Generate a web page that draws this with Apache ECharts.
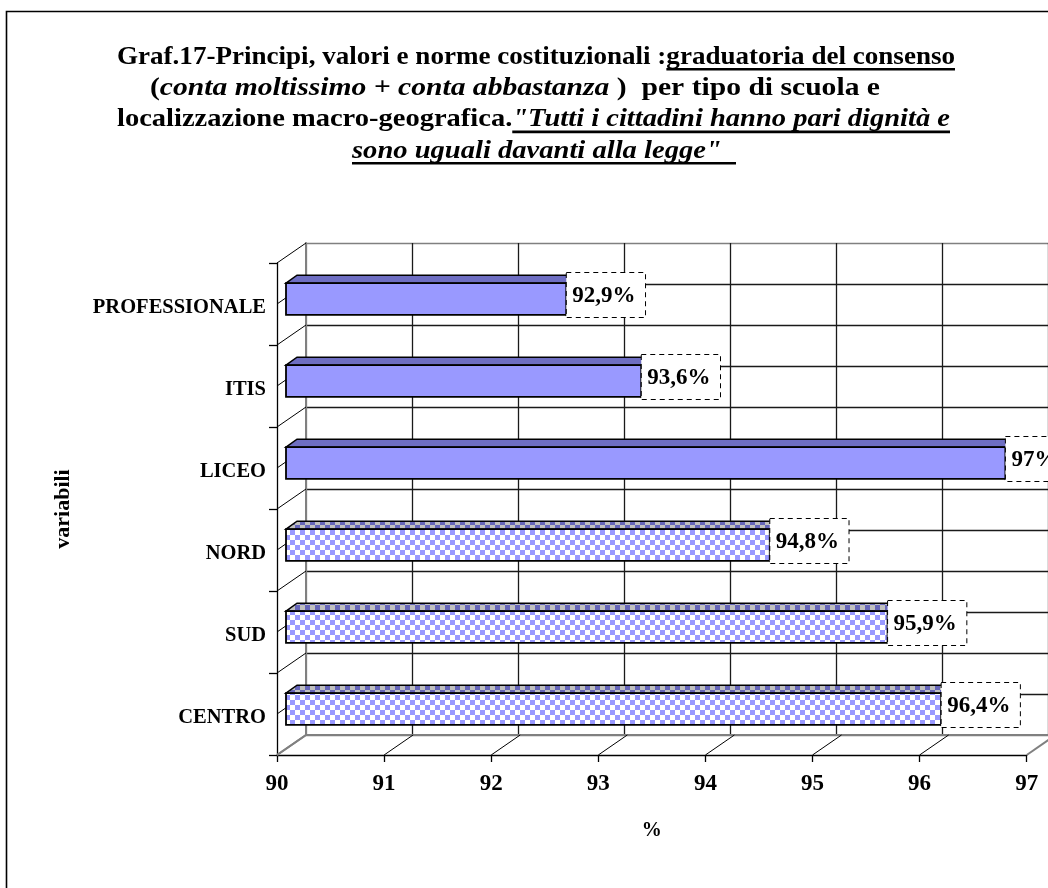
<!DOCTYPE html>
<html>
<head>
<meta charset="utf-8">
<script src="https://cdn.jsdelivr.net/npm/echarts@6/dist/echarts.min.js"></script>
<style>
html,body{margin:0;padding:0;background:#fff;}
#c{width:1048px;height:888px;}
</style>
</head>
<body>
<div id="c"></div>
<script>
// ---- data ----
const categories = ['PROFESSIONALE', 'ITIS', 'LICEO', 'NORD', 'SUD', 'CENTRO'];
const values = [92.9, 93.6, 97, 94.8, 95.9, 96.4];
const kinds = ['scuola', 'scuola', 'scuola', 'area', 'area', 'area'];
const xMin = 90, xMax = 97, xStep = 1;
const titleLines = [
  [{t: 'Graf.17-Principi, valori e norme costituzionali :'}, {t: 'graduatoria del consenso', u: true}],
  [{t: '('}, {t: 'conta moltissimo + conta abbastanza', i: true}, {t: ' )  per tipo di scuola e'}],
  [{t: 'localizzazione macro-geografica.'}, {t: '"Tutti i cittadini hanno pari dignità e', i: true, u: true}],
  [{t: 'sono uguali davanti alla legge"  ', i: true, u: true}]
];
const xAxisName = '%';
const yAxisName = 'variabili';

// ---- layout ----
const FONT = '"Liberation Serif", "Times New Roman", serif';
const UNIT = 107.1;
const W = (xMax - xMin) * UNIT;
const H = 492;
const FRONT = {left: 277, top: 263};
const BACK = {left: 306, top: 243};
const BARS = {left: 286, top: 258};
const barShift = 0.283; // perspective offset of the bar plane
const DX = 11, DY = 8;
const titleExt = [[117, 955], [150, 880], [117, 950], [352, 736]];
const titleY0 = 57, titleDy = 31.3, tSize = 26;

const mctx = document.createElement('canvas').getContext('2d');
function tw(text, font) { mctx.font = font; return mctx.measureText(text).width; }

function checker(c1, c2, s) {
  const cv = document.createElement('canvas');
  cv.width = cv.height = 2 * s;
  const g = cv.getContext('2d');
  g.fillStyle = c2; g.fillRect(0, 0, 2 * s, 2 * s);
  g.fillStyle = c1; g.fillRect(0, 0, s, s); g.fillRect(s, s, s, s);
  return {image: cv, repeat: 'repeat'};
}
const fills = {
  scuola: {front: '#9999ff', top: '#6e6ec2', side: '#4d4d99'},
  area: {front: checker('#9999ff', '#ffffff', 5), top: checker('#6666b8', '#c0c0c0', 5), side: '#4d4d99'}
};

const LABEL_FONT = 'bold 23px ' + FONT;

// ---- graphics ----
const graphics = [];
graphics.push({type: 'rect', shape: {x: 6.5, y: 11.5, width: 1100, height: 1000},
  style: {fill: null, stroke: '#000', lineWidth: 1.6}, z: 0, silent: true});

function segFont(s) { return (s.i ? 'italic ' : '') + 'bold ' + tSize + 'px ' + FONT; }
titleLines.forEach((line, li) => {
  const widths = line.map(s => tw(s.t, segFont(s)));
  const total = widths.reduce((a, b) => a + b, 0);
  const sx = (titleExt[li][1] - titleExt[li][0]) / total;
  const y = titleY0 + li * titleDy;
  const children = [];
  let x = 0;
  line.forEach((s, si) => {
    children.push({type: 'text', x: x, y: 0,
      style: {text: s.t, font: segFont(s), fill: '#000', align: 'left', verticalAlign: 'middle'}});
    if (s.u) {
      children.push({type: 'rect', shape: {x: x, y: 11, width: widths[si], height: 2.6}, style: {fill: '#000'}});
    }
    x += widths[si];
  });
  graphics.push({type: 'group', x: titleExt[li][0], y: y, scaleX: sx, z: 10, children: children});
});

// left-wall and floor perspective lines
const nCat = categories.length;
for (let k = 0; k <= nCat * 2; k++) {
  const yf = FRONT.top + k * H / (nCat * 2);
  const yb = BACK.top + k * H / (nCat * 2);
  graphics.push({type: 'line', z: 1, shape: {x1: FRONT.left, y1: yf, x2: BACK.left, y2: yb},
    style: {stroke: k === nCat * 2 ? '#808080' : '#000', lineWidth: k === nCat * 2 ? 2 : 1}});
}
for (let v = xMin; v <= xMax; v += xStep) {
  const xf = FRONT.left + (v - xMin) * UNIT;
  const xb = BACK.left + (v - xMin) * UNIT;
  const edge = (v === xMin || v === xMax);
  graphics.push({type: 'line', z: 1, shape: {x1: xf, y1: FRONT.top + H, x2: xb, y2: BACK.top + H},
    style: {stroke: edge ? '#808080' : '#000', lineWidth: edge ? 2 : 1}});
}

const vCols = []; for (let v = xMin; v <= xMax; v += xStep) vCols.push(v === xMin ? '#808080' : '#1a1a1a');
const hCols = []; for (let k = 0; k <= nCat * 2; k++) hCols.push((k === 0 || k === nCat * 2) ? '#808080' : '#1a1a1a');

function fmt(v) { return String(v).replace('.', ',') + '%'; }

const chart = echarts.init(document.getElementById('c'), null, {renderer: 'canvas'});
chart.setOption({
  backgroundColor: '#fff',
  animation: false,
  grid: [
    {left: BACK.left, top: BACK.top, width: W, height: H},
    {left: FRONT.left, top: FRONT.top, width: W, height: H},
    {left: BARS.left, top: BARS.top, width: W, height: H}
  ],
  xAxis: [
    {gridIndex: 0, type: 'value', min: xMin, max: xMax, interval: xStep,
      axisLine: {show: true, onZero: false, lineStyle: {color: '#808080', width: 2}},
      axisTick: {show: false}, axisLabel: {show: false},
      splitLine: {show: true, lineStyle: {color: vCols, width: 1.3}}},
    {gridIndex: 1, type: 'value', min: xMin, max: xMax, interval: xStep,
      axisLine: {show: true, onZero: false, lineStyle: {color: '#000', width: 1.3}},
      axisTick: {show: true, length: 7, lineStyle: {color: '#000', width: 1.3}},
      axisLabel: {show: true, margin: 18, color: '#000', fontFamily: FONT, fontWeight: 'bold', fontSize: 23},
      splitLine: {show: false},
      name: xAxisName, nameLocation: 'middle', nameGap: 66, nameMoveOverlap: false,
      nameTextStyle: {color: '#000', fontFamily: FONT, fontWeight: 'bold', fontSize: 20}},
    {gridIndex: 2, type: 'value', min: xMin + barShift, max: xMax + barShift, show: false}
  ],
  yAxis: [
    {gridIndex: 0, type: 'value', min: 0, max: nCat * 2, interval: 1,
      axisLine: {show: true, onZero: false, lineStyle: {color: '#808080', width: 2}},
      axisTick: {show: false}, axisLabel: {show: false},
      splitLine: {show: true, lineStyle: {color: hCols, width: 1.3}}},
    {gridIndex: 1, type: 'category', data: categories, inverse: true,
      axisLine: {show: true, onZero: false, lineStyle: {color: '#000', width: 1.3}},
      axisTick: {show: true, length: 8, lineStyle: {color: '#000', width: 1.3}},
      axisLabel: {show: true, margin: 11, formatter: function (v) { return '{a|' + v + '}'; },
        rich: {a: {padding: [7, 0, 0, 0], color: '#000', fontFamily: FONT, fontWeight: 'bold', fontSize: 20.5}}},
      splitLine: {show: false},
      name: yAxisName, nameLocation: 'middle', nameGap: 203, nameRotate: 90, nameMoveOverlap: false,
      nameTextStyle: {color: '#000', fontFamily: FONT, fontWeight: 'bold', fontSize: 22}},
    {gridIndex: 2, type: 'category', data: categories, inverse: true, show: false}
  ],
  graphic: graphics,
  series: [{
    type: 'custom',
    xAxisIndex: 2, yAxisIndex: 2,
    clip: false,
    z: 5,
    data: values.map((v, i) => [v, i]),
    encode: {x: 0, y: 1},
    renderItem: function (params, api) {
      const v = api.value(0), idx = api.value(1);
      const end = api.coord([v, idx]);
      const start = api.coord([xMin + barShift, idx]);
      const band = api.size([0, 1])[1];
      const h = band * 0.385;
      const x0 = start[0], x1 = end[0], y0 = end[1] - h / 2;
      const f = fills[kinds[idx]];
      const label = fmt(v);
      const lw = tw(label, LABEL_FONT);
      const boxW = lw + 16, boxH = 45;
      const cy = y0 + h / 2 - 4;
      return {type: 'group', children: [
        {type: 'polygon', shape: {points: [[x0, y0], [x0 + DX, y0 - DY], [x1 + DX, y0 - DY], [x1, y0]]},
          style: {fill: f.top, stroke: '#000', lineWidth: 1.5}},
        {type: 'polygon', shape: {points: [[x1, y0], [x1 + DX, y0 - DY], [x1 + DX, y0 + h - DY], [x1, y0 + h]]},
          style: {fill: f.side, stroke: '#000', lineWidth: 1.5}},
        {type: 'rect', shape: {x: x0, y: y0, width: x1 - x0, height: h},
          style: {fill: f.front, stroke: '#000', lineWidth: 1.8}},
        {type: 'rect', shape: {x: x1, y: cy - boxH / 2, width: boxW, height: boxH},
          style: {fill: '#fff', stroke: '#000', lineWidth: 1, lineDash: [5, 4]}},
        {type: 'text', x: x1 + 6, y: cy + 1,
          style: {text: label, font: LABEL_FONT, fill: '#000', align: 'left', verticalAlign: 'middle'}}
      ]};
    }
  }]
});
</script>
</body>
</html>
